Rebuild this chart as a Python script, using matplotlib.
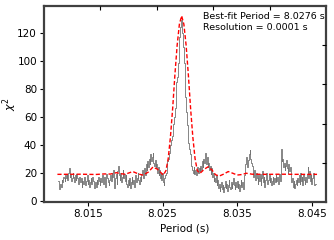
import numpy as np
import matplotlib
matplotlib.use('Agg')
import matplotlib.pyplot as plt

# chi^2 per trial period, step 0.0001 s starting at 8.0110 s
period_start = 8.0110
period_step = 0.0001
chi2 = [
    14, 11, 8, 12, 10, 15, 13, 17, 16, 14,
    18, 16, 19, 15, 20, 23, 17, 19, 14, 16,
    20, 17, 13, 18, 15, 19, 16, 12, 15, 17,
    13, 16, 10, 14, 12, 17, 15, 11, 14, 18,
    12, 15, 10, 13, 16, 12, 17, 14, 11, 9,
    13, 10, 15, 12, 17, 14, 11, 16, 13, 18,
    15, 12, 17, 10, 14, 19, 16, 13, 11, 15,
    18, 14, 20, 17, 22, 13, 9, 16, 19, 12,
    21, 25, 18, 15, 20, 13, 17, 22, 16, 19,
    14, 18, 12, 10, 15, 11, 16, 9, 13, 17,
    12, 15, 10, 14, 18, 13, 16, 20, 15, 12,
    17, 14, 19, 22, 16, 20, 23, 18, 26, 22,
    28, 24, 30, 26, 33, 28, 31, 34, 27, 25,
    29, 23, 26, 20, 24, 18, 22, 16, 19, 15,
    20, 13, 11, 16, 18, 20, 25, 28, 30, 34,
    37, 40, 43, 46, 50, 55, 60, 66, 75, 85,
    88, 98, 108, 117, 124, 129, 127, 120, 110, 98,
    86, 74, 63, 54, 47, 41, 37, 33, 29, 25,
    22, 20, 24, 19, 22, 18, 21, 24, 20, 23,
    21, 25, 22, 28, 24, 30, 27, 34, 29, 26,
    31, 24, 27, 22, 25, 19, 23, 17, 20, 14,
    16, 13, 18, 11, 15, 9, 12, 7, 10, 13,
    8, 11, 6, 10, 14, 9, 12, 7, 11, 15,
    10, 8, 13, 9, 12, 16, 11, 8, 13, 10,
    14, 9, 12, 7, 11, 15, 10, 13, 8, 12,
    18, 26, 31, 27, 24, 29, 33, 36, 30, 27,
    25, 21, 17, 22, 19, 15, 20, 16, 12, 18,
    14, 19, 11, 16, 21, 13, 17, 10, 15, 20,
    17, 12, 15, 18, 13, 16, 11, 14, 17, 12,
    16, 13, 18, 14, 17, 12, 15, 19, 14, 37,
    28, 30, 24, 27, 22, 25, 29, 23, 20, 26,
    21, 24, 17, 13, 16, 10, 14, 9, 12, 15,
    11, 16, 13, 18, 12, 20, 14, 17, 11, 19,
    15, 12, 17, 13, 19, 24, 16, 21, 14, 18,
    12, 16, 20, 13, 11, 12,
]

# model curve (red dashed)
model_period = [8.0109, 8.0140, 8.0160, 8.0172, 8.0180, 8.0188, 8.0195, 8.0200,
                8.0210, 8.0218, 8.0224, 8.0231, 8.0237, 8.0243, 8.0251,
                8.02545, 8.02575, 8.02605, 8.02635, 8.02665, 8.02695, 8.02725,
                8.02755, 8.02785, 8.02815, 8.02845, 8.02875, 8.02905, 8.02935,
                8.02965, 8.0300, 8.0306, 8.0311, 8.0316, 8.0321, 8.0326, 8.0332,
                8.0338, 8.0344, 8.0350, 8.0357, 8.0362, 8.0370, 8.0390, 8.0410,
                8.0430, 8.0457]
model_chi2 = [18.8, 18.9, 18.7, 19.1, 19.0, 20.0, 19.2, 18.9,
              20.8, 19.0, 18.2, 20.5, 24.0, 22.5, 18.3,
              21.5, 30, 45.5, 66, 90, 111, 126,
              132, 126, 111, 90, 66, 45.5, 30,
              21.5, 19.5, 22.5, 24.2, 22.0, 18.5, 17.6, 19.0,
              20.8, 19.6, 18.3, 18.7, 19.6, 18.9, 18.8, 18.9,
              18.8, 18.8]

best_period = 8.0276
resolution = 0.0001

periods = np.round(period_start + period_step * np.arange(len(chi2)), 4)

fig = plt.figure(figsize=(3.34, 2.4), dpi=100)
ax = fig.add_axes([0.1317, 0.158, 0.8443, 0.817])

ax.plot(periods, chi2, drawstyle='steps-mid', color='0.45', lw=0.6)
ax.plot(model_period, model_chi2, color='red', lw=1.0, linestyle=(0, (3, 1.6)))

ax.set_xlim(8.0091, 8.0469)
ax.set_ylim(-1, 139)
ax.set_xticks([8.015, 8.025, 8.035, 8.045])
ax.set_xticklabels(['8.015', '8.025', '8.035', '8.045'])
ax.set_yticks([0, 20, 40, 60, 80, 100, 120])
ax.tick_params(direction='out', length=3, width=0.8, labelsize=7.5, pad=2,
               top=False, right=False)

for s in ax.spines.values():
    s.set_linewidth(1.6)
    s.set_color('0.25')

# unlabeled inward ticks on top and right
axt = ax.twiny()
axt.set_xlim(0, 1)
axt.set_xticks([0.2, 0.4, 0.6, 0.8])
axt.tick_params(direction='in', length=3, width=0.8, labeltop=False)
axr = ax.twinx()
axr.set_ylim(0, 1)
axr.set_yticks([0.2, 0.4, 0.6, 0.8])
axr.tick_params(direction='in', length=3, width=0.8, labelright=False)
for a in (axt, axr):
    for s in a.spines.values():
        s.set_visible(False)

ax.set_xlabel('Period (s)', fontsize=7.5, labelpad=3)
ax.set_ylabel(r'$\chi^2$', fontsize=8)
ax.yaxis.set_label_coords(-0.09, 0.5)

ax.text(0.563, 0.968, 'Best-fit Period = %.4f s\nResolution = %.4f s' % (best_period, resolution),
        transform=ax.transAxes, ha='left', va='top', fontsize=6.8, linespacing=1.2)

plt.savefig('out.png', dpi=100)
